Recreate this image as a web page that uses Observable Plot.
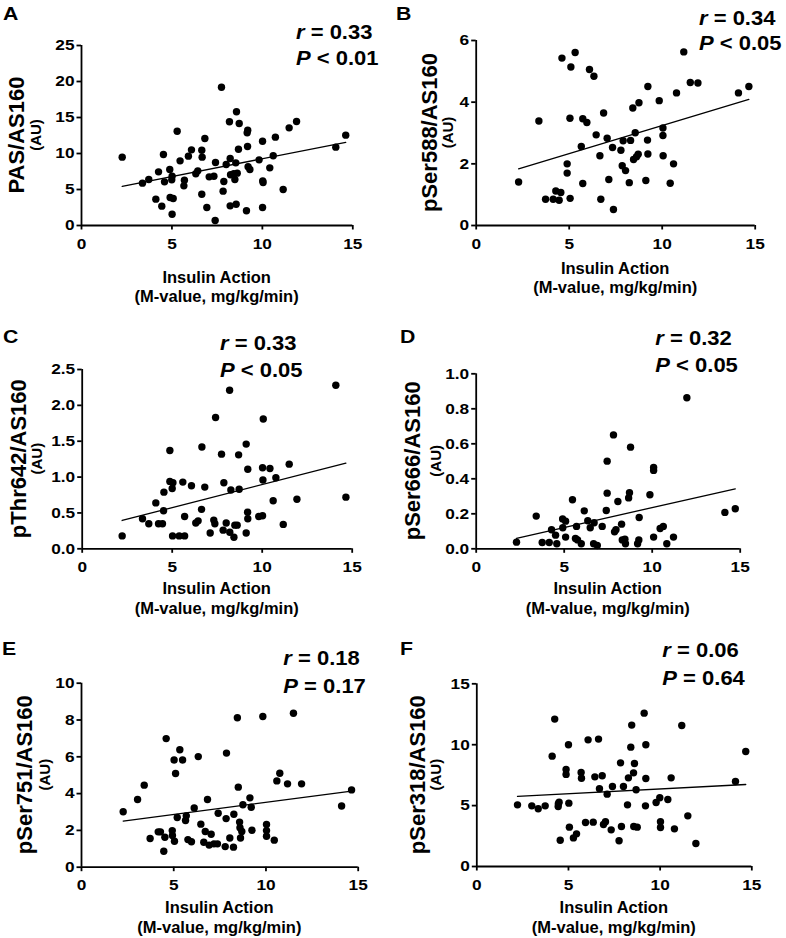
<!DOCTYPE html>
<html><head><meta charset="utf-8">
<script src="https://cdn.jsdelivr.net/npm/d3@7"></script>
<script src="https://cdn.jsdelivr.net/npm/@observablehq/plot@0.6"></script>
<style>
body{margin:0;background:#fff;}
#root{position:relative;width:786px;height:938px;overflow:hidden;font-family:"Liberation Sans",Arial,sans-serif;}
#root > svg{position:absolute;}
</style></head><body><div id="root"></div>
<script>
// ---------------- data ----------------
const xTicks = [0, 5, 10, 15];
const xTitle1 = "Insulin Action";
const xTitle2 = "(M-value, mg/kg/min)";

// Panel A: PAS/AS160
const aX = [2.25,3.37,3.72,4.26,4.11,4.53,4.59,4.44,4.88,5.01,4.99,4.90,5.07,5.01,5.29,5.45,5.69,5.66,5.91,6.08,6.32,6.43,6.65,6.67,6.82,6.65,6.93,7.06,7.32,7.41,7.39,7.74,7.83,7.87,8.00,8.18,8.22,8.24,8.22,8.42,8.48,8.53,8.57,8.61,8.55,8.72,8.68,9.12,9.16,9.19,9.18,9.21,9.31,9.82,10.01,10.02,10.04,10.01,10.41,10.60,10.72,11.15,11.48,11.89,14.06,14.61];
const aY = [9.49,5.88,6.39,7.45,3.66,9.86,6.06,2.69,7.78,6.85,6.34,3.89,3.75,1.57,13.10,8.98,6.30,5.51,9.63,10.51,7.18,7.59,10.46,9.49,12.08,4.35,2.50,6.76,6.85,8.75,0.69,19.21,4.77,6.11,8.47,14.40,9.31,7.04,2.73,7.18,6.39,8.70,15.79,7.27,2.96,14.17,10.60,2.04,12.87,13.24,10.97,8.15,7.78,9.12,11.71,6.20,5.97,2.50,8.01,9.68,12.27,5.00,13.56,14.44,10.88,12.55];

// Panel B: pSer588/AS160
const bX = [2.28,3.37,3.73,4.14,4.28,4.46,4.55,4.61,4.89,4.89,5.04,5.05,5.09,5.32,5.65,5.73,5.73,5.95,6.09,6.33,6.45,6.65,6.70,6.85,7.04,7.13,7.33,7.38,7.78,7.85,7.90,8.03,8.23,8.30,8.42,8.46,8.55,8.62,8.71,8.75,9.12,9.21,9.23,9.23,9.84,10.04,10.04,10.05,10.43,10.61,10.77,11.16,11.51,11.92,14.10,14.66];
const bY = [1.41,3.39,0.85,0.85,1.12,0.82,1.07,5.43,2.00,1.70,3.48,0.88,5.14,5.61,2.56,3.46,1.36,3.34,5.06,4.84,2.94,2.26,0.85,3.65,2.83,1.49,2.53,0.52,2.44,1.94,2.75,1.78,1.39,2.76,3.81,2.14,3.01,2.23,2.31,3.98,1.46,2.77,2.32,4.51,4.05,3.16,2.92,2.26,1.37,2.00,4.30,5.63,4.64,4.62,4.30,4.51];

// Panel C: pThr642/AS160
const cX = [2.22,3.35,3.70,4.09,4.24,4.46,4.54,4.52,4.87,4.87,5.04,5.00,5.02,5.39,5.59,5.69,5.69,6.07,6.31,6.44,6.65,6.63,6.81,7.11,7.31,7.37,7.41,7.74,7.83,7.87,8.00,8.19,8.20,8.26,8.43,8.48,8.61,8.69,8.72,9.11,9.11,9.19,9.20,9.20,9.81,10.02,10.02,10.06,10.04,10.43,10.61,10.76,11.17,11.50,11.93,14.09,14.65];
const cY = [0.18,0.42,0.35,0.64,0.35,0.35,0.79,0.53,1.37,0.94,0.92,0.84,0.18,0.18,0.93,0.45,0.18,0.88,0.36,0.39,1.42,0.55,0.86,0.22,0.40,0.35,1.83,1.32,0.26,0.92,0.36,2.21,0.23,0.82,0.16,0.33,0.33,1.31,0.83,1.46,0.22,0.51,0.42,1.11,0.45,0.46,1.13,1.81,0.96,1.12,0.67,0.99,0.34,1.18,0.69,2.28,0.72];

// Panel D: pSer666/AS160
const dX = [2.29,3.41,3.75,4.15,4.28,4.51,4.58,4.91,4.92,5.08,5.08,5.47,5.70,5.64,5.76,5.97,6.14,6.34,6.48,6.70,6.67,6.88,7.16,7.39,7.44,7.44,7.80,7.86,7.94,8.05,8.26,8.30,8.45,8.48,8.66,8.71,8.77,9.17,9.24,9.26,9.87,10.08,10.08,10.08,10.45,10.63,10.83,11.21,11.97,14.13,14.72];
const dY = [0.038,0.187,0.036,0.036,0.109,0.078,0.029,0.171,0.120,0.158,0.067,0.280,0.128,0.059,0.051,0.029,0.217,0.160,0.120,0.149,0.029,0.019,0.128,0.219,0.318,0.501,0.651,0.097,0.109,0.270,0.141,0.051,0.055,0.029,0.291,0.320,0.581,0.029,0.050,0.179,0.309,0.465,0.448,0.067,0.116,0.128,0.029,0.067,0.863,0.208,0.229];

// Panel E: pSer751/AS160
const eX = [2.26,3.04,3.40,3.72,4.16,4.28,4.52,4.46,4.59,4.92,4.93,5.04,5.02,5.10,5.19,5.33,5.48,5.68,5.64,5.77,5.96,6.11,6.33,6.47,6.63,6.71,6.83,6.92,7.03,7.18,7.37,7.41,7.79,7.86,7.84,8.04,8.26,8.24,8.45,8.50,8.57,8.59,8.62,8.69,8.75,9.13,9.20,9.24,9.83,10.03,10.03,10.03,10.45,10.59,10.75,11.17,11.49,11.93,14.10,14.64];
const eY = [3.01,3.68,4.46,1.56,1.92,1.92,1.63,0.87,6.99,1.99,1.72,1.41,5.83,5.09,2.70,6.38,5.83,2.79,2.54,1.50,1.38,3.22,6.01,2.34,1.36,1.94,3.68,1.20,1.79,1.27,1.27,2.93,1.12,6.20,2.64,1.59,2.88,1.09,8.12,4.35,2.45,2.14,1.59,1.94,3.39,3.77,3.26,2.01,8.19,2.32,1.99,1.68,1.47,4.69,5.11,4.53,8.37,4.53,3.33,4.20];

// Panel F: pSer318/AS160
const fX = [2.22,3.00,3.35,3.73,4.11,4.25,4.45,4.49,4.44,4.55,4.87,4.87,5.00,5.02,5.05,5.27,5.44,5.69,5.71,5.93,6.07,6.35,6.44,6.64,6.69,6.84,6.91,7.02,7.11,7.33,7.40,7.76,7.84,7.89,8.00,8.22,8.27,8.40,8.45,8.55,8.60,8.56,8.69,8.75,9.13,9.22,9.22,9.20,9.78,9.98,10.02,10.02,10.42,10.60,10.78,11.18,11.51,11.95,14.11,14.67];
const fY = [5.06,4.98,4.74,4.98,9.06,12.10,5.15,5.28,4.93,2.16,7.97,7.56,9.99,5.20,3.23,2.35,2.68,7.72,7.25,3.61,10.40,3.64,7.36,10.46,6.38,7.45,3.45,3.67,5.94,3.01,6.57,2.11,8.51,3.28,6.57,5.06,7.28,9.80,11.61,7.69,8.46,3.28,6.30,3.23,12.59,9.99,7.23,4.98,5.26,5.64,3.67,3.20,5.50,7.28,3.09,11.58,4.16,1.89,6.98,9.44];

// tick values and labels
const aTicks = [0, 5, 10, 15, 20, 25];
const bTicks = [0, 2, 4, 6];
const cTicks = [0, 0.5, 1.0, 1.5, 2.0, 2.5];
const dTicks = [0, 0.2, 0.4, 0.6, 0.8, 1.0];
const eTicks = [0, 2, 4, 6, 8, 10];
const fTicks = [0, 5, 10, 15];

const letters = ["A", "B", "C", "D", "E", "F"];
const yLabels = ["PAS/AS160", "pSer588/AS160", "pThr642/AS160", "pSer666/AS160", "pSer751/AS160", "pSer318/AS160"];
const rValues = ["0.33", "0.34", "0.33", "0.32", "0.18", "0.06"];
const pOps = ["<", "<", "<", "<", "=", "="];
const pValues = ["0.01", "0.05", "0.05", "0.05", "0.17", "0.64"];

// ---------------- layout ----------------
const layout = [
  {xs: aX, ys: aY, ticks: aTicks, fmt: "d", svg: [0, 0, 393, 310],   frame: [81, 352.3, 45, 225],     letter: [3, 20],    stat: [296, 39, 65],     ylab: [16, 35.5],  xt: [282.5, 302]},
  {xs: bX, ys: bY, ticks: bTicks, fmt: "d", svg: [393, 0, 393, 310], frame: [475.7, 754.7, 40, 225],  letter: [396, 20],  stat: [699, 25, 50],     ylab: [429, 447],  xt: [273.5, 293]},
  {xs: cX, ys: cY, ticks: cTicks, fmt: ".1f", svg: [0, 310, 393, 310], frame: [81.7, 351.7, 369, 548.3], letter: [3, 343], stat: [220, 350, 376.5], ylab: [18, 36.5], xt: [594, 613.5]},
  {xs: dX, ys: dY, ticks: dTicks, fmt: ".1f", svg: [393, 310, 393, 310], frame: [475.7, 739.7, 373.3, 548.3], letter: [400, 343], stat: [655.3, 345, 371.5], ylab: [412, 435], xt: [594, 613.5]},
  {xs: eX, ys: eY, ticks: eTicks, fmt: "d", svg: [0, 620, 393, 318], frame: [81, 357.7, 682.7, 866.7], letter: [2, 655], stat: [283.3, 665, 693], ylab: [24, 44], xt: [913, 932.5]},
  {xs: fX, ys: fY, ticks: fTicks, fmt: "d", svg: [393, 620, 393, 318], frame: [476.3, 751.3, 683.3, 866], letter: [400, 655], stat: [662.3, 656.5, 685], ylab: [417, 435.5], xt: [913, 932.5]}
];

const FONT = "'Liberation Sans', Arial, sans-serif";
const TICK_STRETCH = 1.15;
const root = document.getElementById("root");

function stretchText(el, s) {
  const t = el.getAttribute("transform");
  if (t) {
    el.setAttribute("transform", t + ` scale(${s},1)`);
  } else {
    const x = +(el.getAttribute("x") || 0), y = +(el.getAttribute("y") || 0);
    el.removeAttribute("x"); el.removeAttribute("y");
    el.setAttribute("transform", `translate(${x},${y}) scale(${s},1)`);
  }
}

layout.forEach((p, i) => {
  const data = p.xs.map((x, k) => ({x, y: p.ys[k]}));
  const [sx, sy, sw, sh] = p.svg;
  const [fl, fr, ft, fb] = p.frame;
  const yMax = p.ticks[p.ticks.length - 1];
  const plot = Plot.plot({
    width: sw, height: sh,
    marginLeft: fl - sx, marginRight: sx + sw - fr,
    marginTop: ft - sy, marginBottom: sy + sh - fb,
    x: {domain: [0, 15]},
    y: {domain: [0, yMax]},
    style: {fontFamily: FONT, fontSize: "15px", fontWeight: "bold", color: "#000", background: "transparent", overflow: "visible"},
    marks: [
      Plot.axisX({ticks: xTicks, tickSize: 4.5, tickPadding: 8, strokeWidth: 1.8, label: null, tickFormat: d3.format("d")}),
      Plot.axisY({ticks: p.ticks, tickSize: 4.5, tickPadding: 2.5, strokeWidth: 1.8, label: null, tickFormat: d3.format(p.fmt)}),
      Plot.ruleX([0], {strokeWidth: 1.8}),
      Plot.ruleY([0], {strokeWidth: 1.8}),
      Plot.linearRegressionY(data, {x: "x", y: "y", ci: 0, stroke: "#000", strokeWidth: 1.3}),
      Plot.dot(data, {x: "x", y: "y", r: 3.7, fill: "#000", stroke: "none"})
    ]
  });
  plot.querySelectorAll('g[aria-label$="tick label"] text').forEach(el => stretchText(el, TICK_STRETCH));
  plot.style.left = sx + "px";
  plot.style.top = sy + "px";
  root.appendChild(plot);
});

// ---------------- annotation text ----------------
const ov = d3.create("svg").attr("width", 786).attr("height", 938)
  .style("left", "0px").style("top", "0px").style("pointer-events", "none")
  .attr("font-family", FONT).attr("font-weight", "bold").attr("fill", "#000");

layout.forEach((p, i) => {
  const [fl, fr, ft, fb] = p.frame;
  ov.append("text").attr("transform", `translate(${p.letter[0]},${p.letter[1]}) scale(1.12,1)`)
    .attr("font-size", 19).text(letters[i]);
  const r = ov.append("text").attr("transform", `translate(${p.stat[0]},${p.stat[1]}) scale(1.1,1)`).attr("font-size", 20);
  r.append("tspan").attr("font-style", "italic").text("r");
  r.append("tspan").text(" = " + rValues[i]);
  const pt = ov.append("text").attr("transform", `translate(${p.stat[0]},${p.stat[2]}) scale(1.1,1)`).attr("font-size", 20);
  pt.append("tspan").attr("font-style", "italic").text("P");
  pt.append("tspan").text(" " + pOps[i] + " " + pValues[i]);
  const cy = (ft + fb) / 2;
  ov.append("text").attr("transform", `translate(${p.ylab[0]},${cy}) rotate(-90)`)
    .attr("text-anchor", "middle").attr("dominant-baseline", "central").attr("font-size", 22).text(yLabels[i]);
  ov.append("text").attr("transform", `translate(${p.ylab[1]},${cy}) rotate(-90)`)
    .attr("text-anchor", "middle").attr("dominant-baseline", "central").attr("font-size", 15).text("(AU)");
  const cx = (fl + fr) / 2;
  ov.append("text").attr("x", cx).attr("y", p.xt[0]).attr("text-anchor", "middle").attr("font-size", 16.5).text(xTitle1);
  ov.append("text").attr("x", cx).attr("y", p.xt[1]).attr("text-anchor", "middle").attr("font-size", 16.5).text(xTitle2);
});
root.appendChild(ov.node());
</script>
</body></html>
